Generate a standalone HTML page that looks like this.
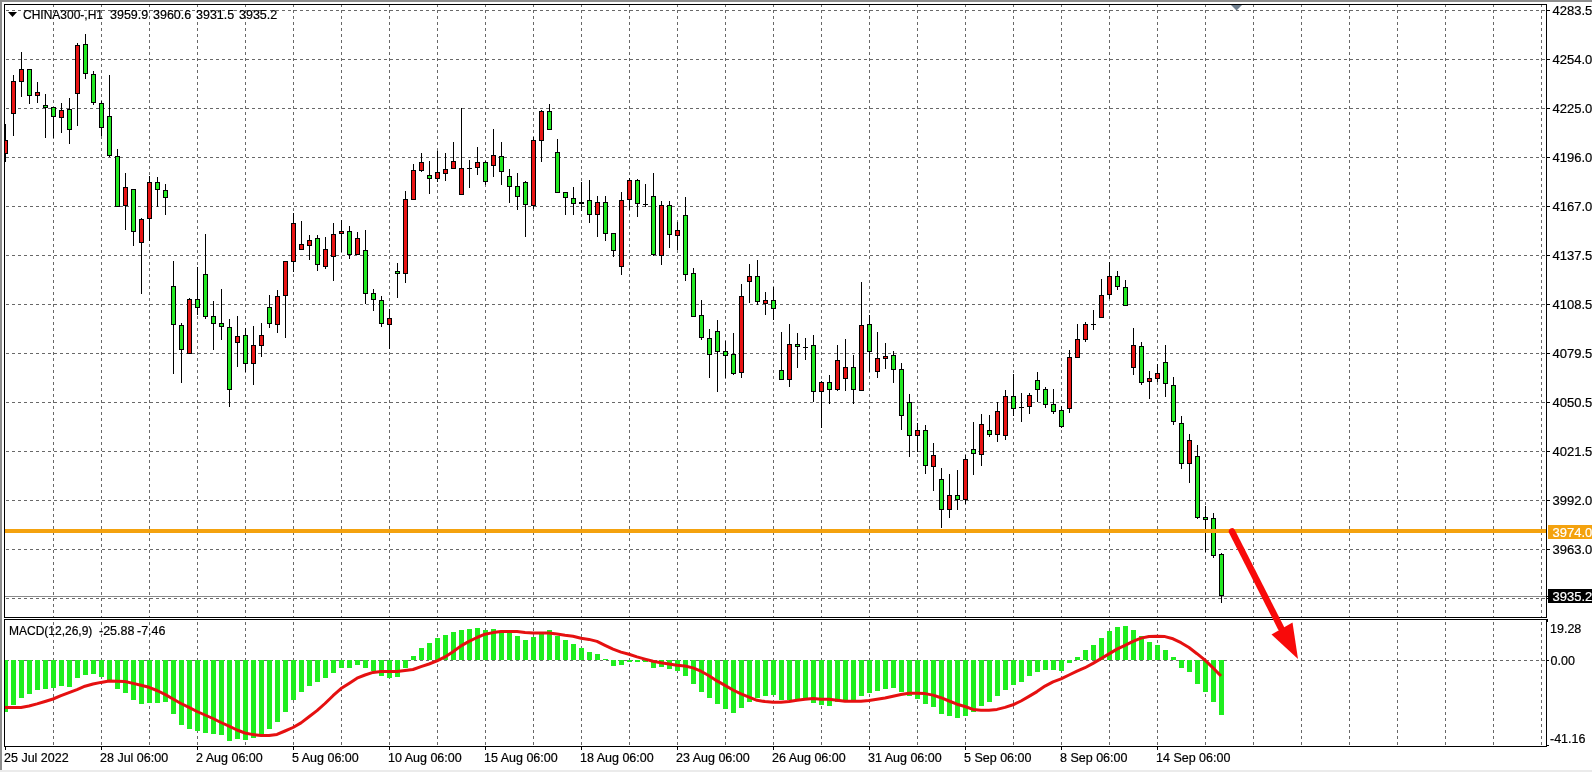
<!DOCTYPE html><html><head><meta charset="utf-8"><style>
html,body{margin:0;padding:0;background:#fff;width:1592px;height:772px;overflow:hidden}
svg{display:block;will-change:transform}
text{font-family:"Liberation Sans", sans-serif;font-size:12.5px;fill:#000;stroke:#000;stroke-width:0.2px} .t12{font-size:12px} .t13{font-size:13px}
</style></head><body>
<svg width="1592" height="772" viewBox="0 0 1592 772">
<rect x="0" y="0" width="1592" height="772" fill="#fff"/>
<rect x="0" y="0" width="1592" height="2" fill="#8e8e8e"/>
<rect x="0" y="0" width="2" height="772" fill="#8e8e8e"/>
<rect x="0" y="770" width="1592" height="2" fill="#ebebeb"/>
<defs><clipPath id="cm"><rect x="5" y="5" width="1541" height="612"/></clipPath>
<clipPath id="cd"><rect x="5" y="620" width="1541" height="126"/></clipPath></defs>
<g shape-rendering="crispEdges" stroke="#686868" stroke-width="1" stroke-dasharray="3 3" fill="none">
<line x1="53.5" y1="4" x2="53.5" y2="617"/>
<line x1="53.5" y1="622" x2="53.5" y2="746"/>
<line x1="101.5" y1="4" x2="101.5" y2="617"/>
<line x1="101.5" y1="622" x2="101.5" y2="746"/>
<line x1="149.5" y1="4" x2="149.5" y2="617"/>
<line x1="149.5" y1="622" x2="149.5" y2="746"/>
<line x1="197.5" y1="4" x2="197.5" y2="617"/>
<line x1="197.5" y1="622" x2="197.5" y2="746"/>
<line x1="245.5" y1="4" x2="245.5" y2="617"/>
<line x1="245.5" y1="622" x2="245.5" y2="746"/>
<line x1="293.5" y1="4" x2="293.5" y2="617"/>
<line x1="293.5" y1="622" x2="293.5" y2="746"/>
<line x1="341.5" y1="4" x2="341.5" y2="617"/>
<line x1="341.5" y1="622" x2="341.5" y2="746"/>
<line x1="389.5" y1="4" x2="389.5" y2="617"/>
<line x1="389.5" y1="622" x2="389.5" y2="746"/>
<line x1="437.5" y1="4" x2="437.5" y2="617"/>
<line x1="437.5" y1="622" x2="437.5" y2="746"/>
<line x1="485.5" y1="4" x2="485.5" y2="617"/>
<line x1="485.5" y1="622" x2="485.5" y2="746"/>
<line x1="533.5" y1="4" x2="533.5" y2="617"/>
<line x1="533.5" y1="622" x2="533.5" y2="746"/>
<line x1="581.5" y1="4" x2="581.5" y2="617"/>
<line x1="581.5" y1="622" x2="581.5" y2="746"/>
<line x1="629.5" y1="4" x2="629.5" y2="617"/>
<line x1="629.5" y1="622" x2="629.5" y2="746"/>
<line x1="677.5" y1="4" x2="677.5" y2="617"/>
<line x1="677.5" y1="622" x2="677.5" y2="746"/>
<line x1="725.5" y1="4" x2="725.5" y2="617"/>
<line x1="725.5" y1="622" x2="725.5" y2="746"/>
<line x1="773.5" y1="4" x2="773.5" y2="617"/>
<line x1="773.5" y1="622" x2="773.5" y2="746"/>
<line x1="821.5" y1="4" x2="821.5" y2="617"/>
<line x1="821.5" y1="622" x2="821.5" y2="746"/>
<line x1="869.5" y1="4" x2="869.5" y2="617"/>
<line x1="869.5" y1="622" x2="869.5" y2="746"/>
<line x1="917.5" y1="4" x2="917.5" y2="617"/>
<line x1="917.5" y1="622" x2="917.5" y2="746"/>
<line x1="965.5" y1="4" x2="965.5" y2="617"/>
<line x1="965.5" y1="622" x2="965.5" y2="746"/>
<line x1="1013.5" y1="4" x2="1013.5" y2="617"/>
<line x1="1013.5" y1="622" x2="1013.5" y2="746"/>
<line x1="1061.5" y1="4" x2="1061.5" y2="617"/>
<line x1="1061.5" y1="622" x2="1061.5" y2="746"/>
<line x1="1109.5" y1="4" x2="1109.5" y2="617"/>
<line x1="1109.5" y1="622" x2="1109.5" y2="746"/>
<line x1="1157.5" y1="4" x2="1157.5" y2="617"/>
<line x1="1157.5" y1="622" x2="1157.5" y2="746"/>
<line x1="1205.5" y1="4" x2="1205.5" y2="617"/>
<line x1="1205.5" y1="622" x2="1205.5" y2="746"/>
<line x1="1253.5" y1="4" x2="1253.5" y2="617"/>
<line x1="1253.5" y1="622" x2="1253.5" y2="746"/>
<line x1="1301.5" y1="4" x2="1301.5" y2="617"/>
<line x1="1301.5" y1="622" x2="1301.5" y2="746"/>
<line x1="1349.5" y1="4" x2="1349.5" y2="617"/>
<line x1="1349.5" y1="622" x2="1349.5" y2="746"/>
<line x1="1397.5" y1="4" x2="1397.5" y2="617"/>
<line x1="1397.5" y1="622" x2="1397.5" y2="746"/>
<line x1="1445.5" y1="4" x2="1445.5" y2="617"/>
<line x1="1445.5" y1="622" x2="1445.5" y2="746"/>
<line x1="1493.5" y1="4" x2="1493.5" y2="617"/>
<line x1="1493.5" y1="622" x2="1493.5" y2="746"/>
<line x1="1541.5" y1="4" x2="1541.5" y2="617"/>
<line x1="1541.5" y1="622" x2="1541.5" y2="746"/>
<line x1="6" y1="10.5" x2="1546" y2="10.5"/>
<line x1="6" y1="59.5" x2="1546" y2="59.5"/>
<line x1="6" y1="108.5" x2="1546" y2="108.5"/>
<line x1="6" y1="157.5" x2="1546" y2="157.5"/>
<line x1="6" y1="206.5" x2="1546" y2="206.5"/>
<line x1="6" y1="255.5" x2="1546" y2="255.5"/>
<line x1="6" y1="304.5" x2="1546" y2="304.5"/>
<line x1="6" y1="353.5" x2="1546" y2="353.5"/>
<line x1="6" y1="402.5" x2="1546" y2="402.5"/>
<line x1="6" y1="451.5" x2="1546" y2="451.5"/>
<line x1="6" y1="500.5" x2="1546" y2="500.5"/>
<line x1="6" y1="549.5" x2="1546" y2="549.5"/>
<line x1="6" y1="598.5" x2="1546" y2="598.5"/>
<line x1="6" y1="660.5" x2="1546" y2="660.5"/>
</g>
<rect x="5" y="596" width="1541" height="1" fill="#8a8a8a"/>
<g clip-path="url(#cm)" shape-rendering="crispEdges">
<rect x="5" y="124" width="1" height="38" fill="#000"/>
<rect x="3" y="140" width="5" height="14" fill="#000"/>
<rect x="4" y="141" width="3" height="12" fill="#E81313"/>
<rect x="13" y="75" width="1" height="61" fill="#000"/>
<rect x="11" y="81" width="5" height="33" fill="#000"/>
<rect x="12" y="82" width="3" height="31" fill="#E81313"/>
<rect x="21" y="52" width="1" height="45" fill="#000"/>
<rect x="19" y="69" width="5" height="13" fill="#000"/>
<rect x="20" y="70" width="3" height="11" fill="#E81313"/>
<rect x="29" y="69" width="1" height="35" fill="#000"/>
<rect x="27" y="69" width="5" height="27" fill="#000"/>
<rect x="28" y="70" width="3" height="25" fill="#22E822"/>
<rect x="37" y="82" width="1" height="21" fill="#000"/>
<rect x="35" y="92" width="5" height="4" fill="#000"/>
<rect x="36" y="93" width="3" height="2" fill="#E81313"/>
<rect x="45" y="94" width="1" height="44" fill="#000"/>
<rect x="43" y="105" width="5" height="3" fill="#000"/>
<rect x="44" y="106" width="3" height="1" fill="#22E822"/>
<rect x="53" y="107" width="1" height="31" fill="#000"/>
<rect x="51" y="107" width="5" height="10" fill="#000"/>
<rect x="52" y="108" width="3" height="8" fill="#22E822"/>
<rect x="61" y="103" width="1" height="30" fill="#000"/>
<rect x="59" y="110" width="5" height="8" fill="#000"/>
<rect x="60" y="111" width="3" height="6" fill="#E81313"/>
<rect x="69" y="98" width="1" height="46" fill="#000"/>
<rect x="67" y="109" width="5" height="21" fill="#000"/>
<rect x="68" y="110" width="3" height="19" fill="#22E822"/>
<rect x="77" y="43" width="1" height="83" fill="#000"/>
<rect x="75" y="45" width="5" height="49" fill="#000"/>
<rect x="76" y="46" width="3" height="47" fill="#E81313"/>
<rect x="85" y="34" width="1" height="45" fill="#000"/>
<rect x="83" y="44" width="5" height="30" fill="#000"/>
<rect x="84" y="45" width="3" height="28" fill="#22E822"/>
<rect x="93" y="71" width="1" height="34" fill="#000"/>
<rect x="91" y="74" width="5" height="29" fill="#000"/>
<rect x="92" y="75" width="3" height="27" fill="#22E822"/>
<rect x="101" y="101" width="1" height="35" fill="#000"/>
<rect x="99" y="103" width="5" height="25" fill="#000"/>
<rect x="100" y="104" width="3" height="23" fill="#22E822"/>
<rect x="109" y="75" width="1" height="82" fill="#000"/>
<rect x="107" y="116" width="5" height="40" fill="#000"/>
<rect x="108" y="117" width="3" height="38" fill="#22E822"/>
<rect x="117" y="149" width="1" height="58" fill="#000"/>
<rect x="115" y="156" width="5" height="51" fill="#000"/>
<rect x="116" y="157" width="3" height="49" fill="#22E822"/>
<rect x="125" y="173" width="1" height="57" fill="#000"/>
<rect x="123" y="187" width="5" height="19" fill="#000"/>
<rect x="124" y="188" width="3" height="17" fill="#E81313"/>
<rect x="133" y="189" width="1" height="57" fill="#000"/>
<rect x="131" y="189" width="5" height="43" fill="#000"/>
<rect x="132" y="190" width="3" height="41" fill="#22E822"/>
<rect x="141" y="218" width="1" height="76" fill="#000"/>
<rect x="139" y="219" width="5" height="24" fill="#000"/>
<rect x="140" y="220" width="3" height="22" fill="#E81313"/>
<rect x="149" y="176" width="1" height="65" fill="#000"/>
<rect x="147" y="182" width="5" height="37" fill="#000"/>
<rect x="148" y="183" width="3" height="35" fill="#E81313"/>
<rect x="157" y="177" width="1" height="30" fill="#000"/>
<rect x="155" y="182" width="5" height="8" fill="#000"/>
<rect x="156" y="183" width="3" height="6" fill="#22E822"/>
<rect x="165" y="184" width="1" height="31" fill="#000"/>
<rect x="163" y="190" width="5" height="8" fill="#000"/>
<rect x="164" y="191" width="3" height="6" fill="#22E822"/>
<rect x="173" y="261" width="1" height="113" fill="#000"/>
<rect x="171" y="286" width="5" height="39" fill="#000"/>
<rect x="172" y="287" width="3" height="37" fill="#22E822"/>
<rect x="181" y="323" width="1" height="60" fill="#000"/>
<rect x="179" y="325" width="5" height="25" fill="#000"/>
<rect x="180" y="326" width="3" height="23" fill="#22E822"/>
<rect x="189" y="298" width="1" height="56" fill="#000"/>
<rect x="187" y="299" width="5" height="55" fill="#000"/>
<rect x="188" y="300" width="3" height="53" fill="#E81313"/>
<rect x="197" y="267" width="1" height="48" fill="#000"/>
<rect x="195" y="299" width="5" height="9" fill="#000"/>
<rect x="196" y="300" width="3" height="7" fill="#22E822"/>
<rect x="205" y="234" width="1" height="85" fill="#000"/>
<rect x="203" y="274" width="5" height="43" fill="#000"/>
<rect x="204" y="275" width="3" height="41" fill="#22E822"/>
<rect x="213" y="301" width="1" height="49" fill="#000"/>
<rect x="211" y="316" width="5" height="8" fill="#000"/>
<rect x="212" y="317" width="3" height="6" fill="#22E822"/>
<rect x="221" y="289" width="1" height="51" fill="#000"/>
<rect x="219" y="323" width="5" height="4" fill="#000"/>
<rect x="220" y="324" width="3" height="2" fill="#22E822"/>
<rect x="229" y="319" width="1" height="88" fill="#000"/>
<rect x="227" y="327" width="5" height="63" fill="#000"/>
<rect x="228" y="328" width="3" height="61" fill="#22E822"/>
<rect x="237" y="316" width="1" height="51" fill="#000"/>
<rect x="235" y="336" width="5" height="7" fill="#000"/>
<rect x="236" y="337" width="3" height="5" fill="#E81313"/>
<rect x="245" y="328" width="1" height="44" fill="#000"/>
<rect x="243" y="335" width="5" height="29" fill="#000"/>
<rect x="244" y="336" width="3" height="27" fill="#22E822"/>
<rect x="253" y="326" width="1" height="59" fill="#000"/>
<rect x="251" y="345" width="5" height="19" fill="#000"/>
<rect x="252" y="346" width="3" height="17" fill="#E81313"/>
<rect x="261" y="323" width="1" height="34" fill="#000"/>
<rect x="259" y="335" width="5" height="11" fill="#000"/>
<rect x="260" y="336" width="3" height="9" fill="#E81313"/>
<rect x="269" y="295" width="1" height="33" fill="#000"/>
<rect x="267" y="307" width="5" height="17" fill="#000"/>
<rect x="268" y="308" width="3" height="15" fill="#22E822"/>
<rect x="277" y="290" width="1" height="43" fill="#000"/>
<rect x="275" y="296" width="5" height="29" fill="#000"/>
<rect x="276" y="297" width="3" height="27" fill="#E81313"/>
<rect x="285" y="261" width="1" height="77" fill="#000"/>
<rect x="283" y="261" width="5" height="35" fill="#000"/>
<rect x="284" y="262" width="3" height="33" fill="#E81313"/>
<rect x="293" y="213" width="1" height="59" fill="#000"/>
<rect x="291" y="223" width="5" height="39" fill="#000"/>
<rect x="292" y="224" width="3" height="37" fill="#E81313"/>
<rect x="301" y="221" width="1" height="29" fill="#000"/>
<rect x="299" y="244" width="5" height="6" fill="#000"/>
<rect x="300" y="245" width="3" height="4" fill="#E81313"/>
<rect x="309" y="235" width="1" height="25" fill="#000"/>
<rect x="307" y="240" width="5" height="6" fill="#000"/>
<rect x="308" y="241" width="3" height="4" fill="#E81313"/>
<rect x="317" y="235" width="1" height="36" fill="#000"/>
<rect x="315" y="238" width="5" height="27" fill="#000"/>
<rect x="316" y="239" width="3" height="25" fill="#22E822"/>
<rect x="325" y="237" width="1" height="32" fill="#000"/>
<rect x="323" y="249" width="5" height="18" fill="#000"/>
<rect x="324" y="250" width="3" height="16" fill="#E81313"/>
<rect x="333" y="223" width="1" height="58" fill="#000"/>
<rect x="331" y="234" width="5" height="23" fill="#000"/>
<rect x="332" y="235" width="3" height="21" fill="#E81313"/>
<rect x="341" y="220" width="1" height="32" fill="#000"/>
<rect x="339" y="231" width="5" height="3" fill="#000"/>
<rect x="340" y="232" width="3" height="1" fill="#E81313"/>
<rect x="349" y="226" width="1" height="33" fill="#000"/>
<rect x="347" y="231" width="5" height="24" fill="#000"/>
<rect x="348" y="232" width="3" height="22" fill="#22E822"/>
<rect x="357" y="232" width="1" height="23" fill="#000"/>
<rect x="355" y="238" width="5" height="17" fill="#000"/>
<rect x="356" y="239" width="3" height="15" fill="#E81313"/>
<rect x="365" y="230" width="1" height="74" fill="#000"/>
<rect x="363" y="250" width="5" height="44" fill="#000"/>
<rect x="364" y="251" width="3" height="42" fill="#22E822"/>
<rect x="373" y="289" width="1" height="22" fill="#000"/>
<rect x="371" y="293" width="5" height="7" fill="#000"/>
<rect x="372" y="294" width="3" height="5" fill="#22E822"/>
<rect x="381" y="296" width="1" height="31" fill="#000"/>
<rect x="379" y="300" width="5" height="24" fill="#000"/>
<rect x="380" y="301" width="3" height="22" fill="#22E822"/>
<rect x="389" y="309" width="1" height="40" fill="#000"/>
<rect x="387" y="318" width="5" height="7" fill="#000"/>
<rect x="388" y="319" width="3" height="5" fill="#E81313"/>
<rect x="397" y="263" width="1" height="35" fill="#000"/>
<rect x="395" y="271" width="5" height="3" fill="#000"/>
<rect x="396" y="272" width="3" height="1" fill="#22E822"/>
<rect x="405" y="191" width="1" height="92" fill="#000"/>
<rect x="403" y="199" width="5" height="75" fill="#000"/>
<rect x="404" y="200" width="3" height="73" fill="#E81313"/>
<rect x="413" y="164" width="1" height="36" fill="#000"/>
<rect x="411" y="170" width="5" height="30" fill="#000"/>
<rect x="412" y="171" width="3" height="28" fill="#E81313"/>
<rect x="421" y="153" width="1" height="19" fill="#000"/>
<rect x="419" y="162" width="5" height="9" fill="#000"/>
<rect x="420" y="163" width="3" height="7" fill="#E81313"/>
<rect x="429" y="161" width="1" height="33" fill="#000"/>
<rect x="427" y="175" width="5" height="4" fill="#000"/>
<rect x="428" y="176" width="3" height="2" fill="#22E822"/>
<rect x="437" y="151" width="1" height="31" fill="#000"/>
<rect x="435" y="172" width="5" height="7" fill="#000"/>
<rect x="436" y="173" width="3" height="5" fill="#E81313"/>
<rect x="445" y="153" width="1" height="28" fill="#000"/>
<rect x="443" y="169" width="5" height="5" fill="#000"/>
<rect x="444" y="170" width="3" height="3" fill="#E81313"/>
<rect x="453" y="142" width="1" height="27" fill="#000"/>
<rect x="451" y="161" width="5" height="8" fill="#000"/>
<rect x="452" y="162" width="3" height="6" fill="#E81313"/>
<rect x="461" y="108" width="1" height="87" fill="#000"/>
<rect x="459" y="168" width="5" height="27" fill="#000"/>
<rect x="460" y="169" width="3" height="25" fill="#E81313"/>
<rect x="469" y="160" width="1" height="28" fill="#000"/>
<rect x="467" y="168" width="5" height="1" fill="#000"/>
<rect x="477" y="147" width="1" height="28" fill="#000"/>
<rect x="475" y="162" width="5" height="6" fill="#000"/>
<rect x="476" y="163" width="3" height="4" fill="#E81313"/>
<rect x="485" y="161" width="1" height="24" fill="#000"/>
<rect x="483" y="162" width="5" height="20" fill="#000"/>
<rect x="484" y="163" width="3" height="18" fill="#22E822"/>
<rect x="493" y="129" width="1" height="48" fill="#000"/>
<rect x="491" y="155" width="5" height="11" fill="#000"/>
<rect x="492" y="156" width="3" height="9" fill="#E81313"/>
<rect x="501" y="142" width="1" height="43" fill="#000"/>
<rect x="499" y="156" width="5" height="16" fill="#000"/>
<rect x="500" y="157" width="3" height="14" fill="#22E822"/>
<rect x="509" y="169" width="1" height="34" fill="#000"/>
<rect x="507" y="176" width="5" height="11" fill="#000"/>
<rect x="508" y="177" width="3" height="9" fill="#22E822"/>
<rect x="517" y="173" width="1" height="37" fill="#000"/>
<rect x="515" y="186" width="5" height="11" fill="#000"/>
<rect x="516" y="187" width="3" height="9" fill="#22E822"/>
<rect x="525" y="181" width="1" height="56" fill="#000"/>
<rect x="523" y="182" width="5" height="23" fill="#000"/>
<rect x="524" y="183" width="3" height="21" fill="#22E822"/>
<rect x="533" y="137" width="1" height="72" fill="#000"/>
<rect x="531" y="140" width="5" height="66" fill="#000"/>
<rect x="532" y="141" width="3" height="64" fill="#E81313"/>
<rect x="541" y="110" width="1" height="52" fill="#000"/>
<rect x="539" y="111" width="5" height="30" fill="#000"/>
<rect x="540" y="112" width="3" height="28" fill="#E81313"/>
<rect x="549" y="104" width="1" height="26" fill="#000"/>
<rect x="547" y="111" width="5" height="19" fill="#000"/>
<rect x="548" y="112" width="3" height="17" fill="#22E822"/>
<rect x="557" y="139" width="1" height="54" fill="#000"/>
<rect x="555" y="152" width="5" height="41" fill="#000"/>
<rect x="556" y="153" width="3" height="39" fill="#22E822"/>
<rect x="565" y="192" width="1" height="23" fill="#000"/>
<rect x="563" y="192" width="5" height="6" fill="#000"/>
<rect x="564" y="193" width="3" height="4" fill="#22E822"/>
<rect x="573" y="187" width="1" height="28" fill="#000"/>
<rect x="571" y="198" width="5" height="6" fill="#000"/>
<rect x="572" y="199" width="3" height="4" fill="#22E822"/>
<rect x="581" y="182" width="1" height="29" fill="#000"/>
<rect x="579" y="202" width="5" height="2" fill="#000"/>
<rect x="589" y="180" width="1" height="43" fill="#000"/>
<rect x="587" y="200" width="5" height="15" fill="#000"/>
<rect x="588" y="201" width="3" height="13" fill="#22E822"/>
<rect x="597" y="196" width="1" height="41" fill="#000"/>
<rect x="595" y="202" width="5" height="13" fill="#000"/>
<rect x="596" y="203" width="3" height="11" fill="#E81313"/>
<rect x="605" y="196" width="1" height="45" fill="#000"/>
<rect x="603" y="202" width="5" height="32" fill="#000"/>
<rect x="604" y="203" width="3" height="30" fill="#22E822"/>
<rect x="613" y="233" width="1" height="24" fill="#000"/>
<rect x="611" y="233" width="5" height="18" fill="#000"/>
<rect x="612" y="234" width="3" height="16" fill="#22E822"/>
<rect x="621" y="192" width="1" height="83" fill="#000"/>
<rect x="619" y="200" width="5" height="67" fill="#000"/>
<rect x="620" y="201" width="3" height="65" fill="#E81313"/>
<rect x="629" y="178" width="1" height="32" fill="#000"/>
<rect x="627" y="180" width="5" height="20" fill="#000"/>
<rect x="628" y="181" width="3" height="18" fill="#E81313"/>
<rect x="637" y="179" width="1" height="38" fill="#000"/>
<rect x="635" y="180" width="5" height="24" fill="#000"/>
<rect x="636" y="181" width="3" height="22" fill="#22E822"/>
<rect x="645" y="184" width="1" height="23" fill="#000"/>
<rect x="643" y="204" width="5" height="1" fill="#000"/>
<rect x="653" y="173" width="1" height="83" fill="#000"/>
<rect x="651" y="196" width="5" height="59" fill="#000"/>
<rect x="652" y="197" width="3" height="57" fill="#22E822"/>
<rect x="661" y="201" width="1" height="64" fill="#000"/>
<rect x="659" y="205" width="5" height="51" fill="#000"/>
<rect x="660" y="206" width="3" height="49" fill="#E81313"/>
<rect x="669" y="201" width="1" height="47" fill="#000"/>
<rect x="667" y="205" width="5" height="30" fill="#000"/>
<rect x="668" y="206" width="3" height="28" fill="#22E822"/>
<rect x="677" y="222" width="1" height="28" fill="#000"/>
<rect x="675" y="230" width="5" height="6" fill="#000"/>
<rect x="676" y="231" width="3" height="4" fill="#E81313"/>
<rect x="685" y="197" width="1" height="84" fill="#000"/>
<rect x="683" y="215" width="5" height="60" fill="#000"/>
<rect x="684" y="216" width="3" height="58" fill="#22E822"/>
<rect x="693" y="268" width="1" height="49" fill="#000"/>
<rect x="691" y="273" width="5" height="44" fill="#000"/>
<rect x="692" y="274" width="3" height="42" fill="#22E822"/>
<rect x="701" y="300" width="1" height="40" fill="#000"/>
<rect x="699" y="315" width="5" height="23" fill="#000"/>
<rect x="700" y="316" width="3" height="21" fill="#22E822"/>
<rect x="709" y="329" width="1" height="49" fill="#000"/>
<rect x="707" y="338" width="5" height="17" fill="#000"/>
<rect x="708" y="339" width="3" height="15" fill="#22E822"/>
<rect x="717" y="320" width="1" height="72" fill="#000"/>
<rect x="715" y="331" width="5" height="21" fill="#000"/>
<rect x="716" y="332" width="3" height="19" fill="#22E822"/>
<rect x="725" y="341" width="1" height="37" fill="#000"/>
<rect x="723" y="351" width="5" height="5" fill="#000"/>
<rect x="724" y="352" width="3" height="3" fill="#22E822"/>
<rect x="733" y="333" width="1" height="42" fill="#000"/>
<rect x="731" y="354" width="5" height="20" fill="#000"/>
<rect x="732" y="355" width="3" height="18" fill="#22E822"/>
<rect x="741" y="284" width="1" height="94" fill="#000"/>
<rect x="739" y="296" width="5" height="77" fill="#000"/>
<rect x="740" y="297" width="3" height="75" fill="#E81313"/>
<rect x="749" y="264" width="1" height="39" fill="#000"/>
<rect x="747" y="276" width="5" height="6" fill="#000"/>
<rect x="748" y="277" width="3" height="4" fill="#E81313"/>
<rect x="757" y="260" width="1" height="45" fill="#000"/>
<rect x="755" y="276" width="5" height="26" fill="#000"/>
<rect x="756" y="277" width="3" height="24" fill="#22E822"/>
<rect x="765" y="292" width="1" height="23" fill="#000"/>
<rect x="763" y="300" width="5" height="4" fill="#000"/>
<rect x="764" y="301" width="3" height="2" fill="#E81313"/>
<rect x="773" y="287" width="1" height="33" fill="#000"/>
<rect x="771" y="300" width="5" height="9" fill="#000"/>
<rect x="772" y="301" width="3" height="7" fill="#22E822"/>
<rect x="781" y="332" width="1" height="48" fill="#000"/>
<rect x="779" y="370" width="5" height="10" fill="#000"/>
<rect x="780" y="371" width="3" height="8" fill="#22E822"/>
<rect x="789" y="324" width="1" height="63" fill="#000"/>
<rect x="787" y="344" width="5" height="36" fill="#000"/>
<rect x="788" y="345" width="3" height="34" fill="#E81313"/>
<rect x="797" y="333" width="1" height="35" fill="#000"/>
<rect x="795" y="344" width="5" height="3" fill="#000"/>
<rect x="796" y="345" width="3" height="1" fill="#22E822"/>
<rect x="805" y="338" width="1" height="22" fill="#000"/>
<rect x="803" y="347" width="5" height="1" fill="#000"/>
<rect x="813" y="335" width="1" height="67" fill="#000"/>
<rect x="811" y="345" width="5" height="47" fill="#000"/>
<rect x="812" y="346" width="3" height="45" fill="#22E822"/>
<rect x="821" y="381" width="1" height="47" fill="#000"/>
<rect x="819" y="382" width="5" height="10" fill="#000"/>
<rect x="820" y="383" width="3" height="8" fill="#E81313"/>
<rect x="829" y="375" width="1" height="29" fill="#000"/>
<rect x="827" y="382" width="5" height="8" fill="#000"/>
<rect x="828" y="383" width="3" height="6" fill="#22E822"/>
<rect x="837" y="345" width="1" height="46" fill="#000"/>
<rect x="835" y="360" width="5" height="30" fill="#000"/>
<rect x="836" y="361" width="3" height="28" fill="#E81313"/>
<rect x="845" y="339" width="1" height="52" fill="#000"/>
<rect x="843" y="367" width="5" height="12" fill="#000"/>
<rect x="844" y="368" width="3" height="10" fill="#E81313"/>
<rect x="853" y="355" width="1" height="49" fill="#000"/>
<rect x="851" y="367" width="5" height="23" fill="#000"/>
<rect x="852" y="368" width="3" height="21" fill="#22E822"/>
<rect x="861" y="282" width="1" height="109" fill="#000"/>
<rect x="859" y="325" width="5" height="66" fill="#000"/>
<rect x="860" y="326" width="3" height="64" fill="#E81313"/>
<rect x="869" y="315" width="1" height="57" fill="#000"/>
<rect x="867" y="324" width="5" height="28" fill="#000"/>
<rect x="868" y="325" width="3" height="26" fill="#22E822"/>
<rect x="877" y="332" width="1" height="46" fill="#000"/>
<rect x="875" y="358" width="5" height="14" fill="#000"/>
<rect x="876" y="359" width="3" height="12" fill="#E81313"/>
<rect x="885" y="343" width="1" height="26" fill="#000"/>
<rect x="883" y="356" width="5" height="3" fill="#000"/>
<rect x="884" y="357" width="3" height="1" fill="#E81313"/>
<rect x="893" y="351" width="1" height="32" fill="#000"/>
<rect x="891" y="355" width="5" height="15" fill="#000"/>
<rect x="892" y="356" width="3" height="13" fill="#22E822"/>
<rect x="901" y="363" width="1" height="67" fill="#000"/>
<rect x="899" y="369" width="5" height="47" fill="#000"/>
<rect x="900" y="370" width="3" height="45" fill="#22E822"/>
<rect x="909" y="394" width="1" height="63" fill="#000"/>
<rect x="907" y="402" width="5" height="34" fill="#000"/>
<rect x="908" y="403" width="3" height="32" fill="#22E822"/>
<rect x="917" y="423" width="1" height="29" fill="#000"/>
<rect x="915" y="430" width="5" height="6" fill="#000"/>
<rect x="916" y="431" width="3" height="4" fill="#E81313"/>
<rect x="925" y="425" width="1" height="49" fill="#000"/>
<rect x="923" y="430" width="5" height="36" fill="#000"/>
<rect x="924" y="431" width="3" height="34" fill="#22E822"/>
<rect x="933" y="443" width="1" height="48" fill="#000"/>
<rect x="931" y="455" width="5" height="12" fill="#000"/>
<rect x="932" y="456" width="3" height="10" fill="#E81313"/>
<rect x="941" y="468" width="1" height="60" fill="#000"/>
<rect x="939" y="479" width="5" height="31" fill="#000"/>
<rect x="940" y="480" width="3" height="29" fill="#22E822"/>
<rect x="949" y="474" width="1" height="44" fill="#000"/>
<rect x="947" y="495" width="5" height="15" fill="#000"/>
<rect x="948" y="496" width="3" height="13" fill="#E81313"/>
<rect x="957" y="470" width="1" height="40" fill="#000"/>
<rect x="955" y="495" width="5" height="5" fill="#000"/>
<rect x="956" y="496" width="3" height="3" fill="#22E822"/>
<rect x="965" y="455" width="1" height="49" fill="#000"/>
<rect x="963" y="459" width="5" height="41" fill="#000"/>
<rect x="964" y="460" width="3" height="39" fill="#E81313"/>
<rect x="973" y="422" width="1" height="53" fill="#000"/>
<rect x="971" y="449" width="5" height="5" fill="#000"/>
<rect x="972" y="450" width="3" height="3" fill="#22E822"/>
<rect x="981" y="414" width="1" height="52" fill="#000"/>
<rect x="979" y="424" width="5" height="31" fill="#000"/>
<rect x="980" y="425" width="3" height="29" fill="#E81313"/>
<rect x="989" y="415" width="1" height="22" fill="#000"/>
<rect x="987" y="430" width="5" height="5" fill="#000"/>
<rect x="988" y="431" width="3" height="3" fill="#22E822"/>
<rect x="997" y="402" width="1" height="40" fill="#000"/>
<rect x="995" y="411" width="5" height="24" fill="#000"/>
<rect x="996" y="412" width="3" height="22" fill="#E81313"/>
<rect x="1005" y="390" width="1" height="50" fill="#000"/>
<rect x="1003" y="396" width="5" height="40" fill="#000"/>
<rect x="1004" y="397" width="3" height="38" fill="#E81313"/>
<rect x="1013" y="374" width="1" height="42" fill="#000"/>
<rect x="1011" y="396" width="5" height="13" fill="#000"/>
<rect x="1012" y="397" width="3" height="11" fill="#22E822"/>
<rect x="1021" y="393" width="1" height="29" fill="#000"/>
<rect x="1019" y="407" width="5" height="1" fill="#000"/>
<rect x="1029" y="393" width="1" height="21" fill="#000"/>
<rect x="1027" y="395" width="5" height="12" fill="#000"/>
<rect x="1028" y="396" width="3" height="10" fill="#E81313"/>
<rect x="1037" y="372" width="1" height="30" fill="#000"/>
<rect x="1035" y="380" width="5" height="10" fill="#000"/>
<rect x="1036" y="381" width="3" height="8" fill="#22E822"/>
<rect x="1045" y="387" width="1" height="21" fill="#000"/>
<rect x="1043" y="389" width="5" height="16" fill="#000"/>
<rect x="1044" y="390" width="3" height="14" fill="#22E822"/>
<rect x="1053" y="389" width="1" height="25" fill="#000"/>
<rect x="1051" y="404" width="5" height="8" fill="#000"/>
<rect x="1052" y="405" width="3" height="6" fill="#22E822"/>
<rect x="1061" y="406" width="1" height="22" fill="#000"/>
<rect x="1059" y="410" width="5" height="17" fill="#000"/>
<rect x="1060" y="411" width="3" height="15" fill="#22E822"/>
<rect x="1069" y="350" width="1" height="63" fill="#000"/>
<rect x="1067" y="357" width="5" height="52" fill="#000"/>
<rect x="1068" y="358" width="3" height="50" fill="#E81313"/>
<rect x="1077" y="324" width="1" height="34" fill="#000"/>
<rect x="1075" y="339" width="5" height="19" fill="#000"/>
<rect x="1076" y="340" width="3" height="17" fill="#E81313"/>
<rect x="1085" y="322" width="1" height="20" fill="#000"/>
<rect x="1083" y="324" width="5" height="16" fill="#000"/>
<rect x="1084" y="325" width="3" height="14" fill="#E81313"/>
<rect x="1093" y="310" width="1" height="20" fill="#000"/>
<rect x="1091" y="324" width="5" height="1" fill="#000"/>
<rect x="1101" y="279" width="1" height="39" fill="#000"/>
<rect x="1099" y="295" width="5" height="23" fill="#000"/>
<rect x="1100" y="296" width="3" height="21" fill="#E81313"/>
<rect x="1109" y="262" width="1" height="37" fill="#000"/>
<rect x="1107" y="276" width="5" height="19" fill="#000"/>
<rect x="1108" y="277" width="3" height="17" fill="#E81313"/>
<rect x="1117" y="271" width="1" height="19" fill="#000"/>
<rect x="1115" y="276" width="5" height="11" fill="#000"/>
<rect x="1116" y="277" width="3" height="9" fill="#22E822"/>
<rect x="1125" y="280" width="1" height="26" fill="#000"/>
<rect x="1123" y="287" width="5" height="19" fill="#000"/>
<rect x="1124" y="288" width="3" height="17" fill="#22E822"/>
<rect x="1133" y="328" width="1" height="47" fill="#000"/>
<rect x="1131" y="345" width="5" height="23" fill="#000"/>
<rect x="1132" y="346" width="3" height="21" fill="#E81313"/>
<rect x="1141" y="342" width="1" height="43" fill="#000"/>
<rect x="1139" y="346" width="5" height="37" fill="#000"/>
<rect x="1140" y="347" width="3" height="35" fill="#22E822"/>
<rect x="1149" y="371" width="1" height="28" fill="#000"/>
<rect x="1147" y="378" width="5" height="4" fill="#000"/>
<rect x="1148" y="379" width="3" height="2" fill="#E81313"/>
<rect x="1157" y="364" width="1" height="18" fill="#000"/>
<rect x="1155" y="373" width="5" height="6" fill="#000"/>
<rect x="1156" y="374" width="3" height="4" fill="#E81313"/>
<rect x="1165" y="345" width="1" height="52" fill="#000"/>
<rect x="1163" y="362" width="5" height="22" fill="#000"/>
<rect x="1164" y="363" width="3" height="20" fill="#22E822"/>
<rect x="1173" y="377" width="1" height="48" fill="#000"/>
<rect x="1171" y="385" width="5" height="37" fill="#000"/>
<rect x="1172" y="386" width="3" height="35" fill="#22E822"/>
<rect x="1181" y="416" width="1" height="53" fill="#000"/>
<rect x="1179" y="423" width="5" height="41" fill="#000"/>
<rect x="1180" y="424" width="3" height="39" fill="#22E822"/>
<rect x="1189" y="434" width="1" height="49" fill="#000"/>
<rect x="1187" y="440" width="5" height="24" fill="#000"/>
<rect x="1188" y="441" width="3" height="22" fill="#E81313"/>
<rect x="1197" y="445" width="1" height="74" fill="#000"/>
<rect x="1195" y="456" width="5" height="62" fill="#000"/>
<rect x="1196" y="457" width="3" height="60" fill="#22E822"/>
<rect x="1205" y="506" width="1" height="46" fill="#000"/>
<rect x="1203" y="517" width="5" height="3" fill="#000"/>
<rect x="1204" y="518" width="3" height="1" fill="#22E822"/>
<rect x="1213" y="513" width="1" height="45" fill="#000"/>
<rect x="1211" y="518" width="5" height="38" fill="#000"/>
<rect x="1212" y="519" width="3" height="36" fill="#22E822"/>
<rect x="1221" y="553" width="1" height="50" fill="#000"/>
<rect x="1219" y="554" width="5" height="42" fill="#000"/>
<rect x="1220" y="555" width="3" height="40" fill="#22E822"/>
</g>
<rect x="5" y="529" width="1541" height="4" fill="#F4A20E"/>
<g clip-path="url(#cd)" shape-rendering="crispEdges" fill="#1FEE1F">
<rect x="3" y="660" width="5" height="52"/>
<rect x="11" y="660" width="5" height="45"/>
<rect x="19" y="660" width="5" height="38"/>
<rect x="27" y="660" width="5" height="34"/>
<rect x="35" y="660" width="5" height="30"/>
<rect x="43" y="660" width="5" height="29"/>
<rect x="51" y="660" width="5" height="28"/>
<rect x="59" y="660" width="5" height="26"/>
<rect x="67" y="660" width="5" height="27"/>
<rect x="75" y="660" width="5" height="18"/>
<rect x="83" y="660" width="5" height="15"/>
<rect x="91" y="660" width="5" height="14"/>
<rect x="99" y="660" width="5" height="17"/>
<rect x="107" y="660" width="5" height="20"/>
<rect x="115" y="660" width="5" height="29"/>
<rect x="123" y="660" width="5" height="33"/>
<rect x="131" y="660" width="5" height="40"/>
<rect x="139" y="660" width="5" height="44"/>
<rect x="147" y="660" width="5" height="43"/>
<rect x="155" y="660" width="5" height="43"/>
<rect x="163" y="660" width="5" height="42"/>
<rect x="171" y="660" width="5" height="54"/>
<rect x="179" y="660" width="5" height="65"/>
<rect x="187" y="660" width="5" height="69"/>
<rect x="195" y="660" width="5" height="71"/>
<rect x="203" y="660" width="5" height="73"/>
<rect x="211" y="660" width="5" height="74"/>
<rect x="219" y="660" width="5" height="75"/>
<rect x="227" y="660" width="5" height="81"/>
<rect x="235" y="660" width="5" height="79"/>
<rect x="243" y="660" width="5" height="80"/>
<rect x="251" y="660" width="5" height="78"/>
<rect x="259" y="660" width="5" height="76"/>
<rect x="267" y="660" width="5" height="69"/>
<rect x="275" y="660" width="5" height="62"/>
<rect x="283" y="660" width="5" height="52"/>
<rect x="291" y="660" width="5" height="40"/>
<rect x="299" y="660" width="5" height="32"/>
<rect x="307" y="660" width="5" height="26"/>
<rect x="315" y="660" width="5" height="22"/>
<rect x="323" y="660" width="5" height="18"/>
<rect x="331" y="660" width="5" height="13"/>
<rect x="339" y="660" width="5" height="8"/>
<rect x="347" y="660" width="5" height="8"/>
<rect x="355" y="660" width="5" height="5"/>
<rect x="363" y="660" width="5" height="8"/>
<rect x="371" y="660" width="5" height="11"/>
<rect x="379" y="660" width="5" height="16"/>
<rect x="387" y="660" width="5" height="18"/>
<rect x="395" y="660" width="5" height="17"/>
<rect x="403" y="660" width="5" height="8"/>
<rect x="411" y="656" width="5" height="4"/>
<rect x="419" y="648" width="5" height="12"/>
<rect x="427" y="643" width="5" height="17"/>
<rect x="435" y="638" width="5" height="22"/>
<rect x="443" y="635" width="5" height="25"/>
<rect x="451" y="632" width="5" height="28"/>
<rect x="459" y="630" width="5" height="30"/>
<rect x="467" y="629" width="5" height="31"/>
<rect x="475" y="628" width="5" height="32"/>
<rect x="483" y="630" width="5" height="30"/>
<rect x="491" y="629" width="5" height="31"/>
<rect x="499" y="632" width="5" height="28"/>
<rect x="507" y="632" width="5" height="28"/>
<rect x="515" y="636" width="5" height="24"/>
<rect x="523" y="640" width="5" height="20"/>
<rect x="531" y="637" width="5" height="23"/>
<rect x="539" y="634" width="5" height="26"/>
<rect x="547" y="630" width="5" height="30"/>
<rect x="555" y="636" width="5" height="24"/>
<rect x="563" y="640" width="5" height="20"/>
<rect x="571" y="644" width="5" height="16"/>
<rect x="579" y="648" width="5" height="12"/>
<rect x="587" y="652" width="5" height="8"/>
<rect x="595" y="654" width="5" height="6"/>
<rect x="603" y="659" width="5" height="1"/>
<rect x="611" y="660" width="5" height="6"/>
<rect x="619" y="660" width="5" height="5"/>
<rect x="627" y="660" width="5" height="2"/>
<rect x="635" y="660" width="5" height="2"/>
<rect x="643" y="660" width="5" height="2"/>
<rect x="651" y="660" width="5" height="8"/>
<rect x="659" y="660" width="5" height="7"/>
<rect x="667" y="660" width="5" height="9"/>
<rect x="675" y="660" width="5" height="11"/>
<rect x="683" y="660" width="5" height="16"/>
<rect x="691" y="660" width="5" height="24"/>
<rect x="699" y="660" width="5" height="32"/>
<rect x="707" y="660" width="5" height="38"/>
<rect x="715" y="660" width="5" height="44"/>
<rect x="723" y="660" width="5" height="49"/>
<rect x="731" y="660" width="5" height="53"/>
<rect x="739" y="660" width="5" height="48"/>
<rect x="747" y="660" width="5" height="42"/>
<rect x="755" y="660" width="5" height="38"/>
<rect x="763" y="660" width="5" height="36"/>
<rect x="771" y="660" width="5" height="35"/>
<rect x="779" y="660" width="5" height="40"/>
<rect x="787" y="660" width="5" height="40"/>
<rect x="795" y="660" width="5" height="39"/>
<rect x="803" y="660" width="5" height="38"/>
<rect x="811" y="660" width="5" height="43"/>
<rect x="819" y="660" width="5" height="45"/>
<rect x="827" y="660" width="5" height="46"/>
<rect x="835" y="660" width="5" height="42"/>
<rect x="843" y="660" width="5" height="40"/>
<rect x="851" y="660" width="5" height="40"/>
<rect x="859" y="660" width="5" height="36"/>
<rect x="867" y="660" width="5" height="33"/>
<rect x="875" y="660" width="5" height="31"/>
<rect x="883" y="660" width="5" height="29"/>
<rect x="891" y="660" width="5" height="28"/>
<rect x="899" y="660" width="5" height="32"/>
<rect x="907" y="660" width="5" height="36"/>
<rect x="915" y="660" width="5" height="39"/>
<rect x="923" y="660" width="5" height="44"/>
<rect x="931" y="660" width="5" height="47"/>
<rect x="939" y="660" width="5" height="54"/>
<rect x="947" y="660" width="5" height="56"/>
<rect x="955" y="660" width="5" height="58"/>
<rect x="963" y="660" width="5" height="56"/>
<rect x="971" y="660" width="5" height="52"/>
<rect x="979" y="660" width="5" height="46"/>
<rect x="987" y="660" width="5" height="42"/>
<rect x="995" y="660" width="5" height="36"/>
<rect x="1003" y="660" width="5" height="30"/>
<rect x="1011" y="660" width="5" height="25"/>
<rect x="1019" y="660" width="5" height="22"/>
<rect x="1027" y="660" width="5" height="16"/>
<rect x="1035" y="660" width="5" height="12"/>
<rect x="1043" y="660" width="5" height="10"/>
<rect x="1051" y="660" width="5" height="10"/>
<rect x="1059" y="660" width="5" height="11"/>
<rect x="1067" y="660" width="5" height="3"/>
<rect x="1075" y="657" width="5" height="3"/>
<rect x="1083" y="650" width="5" height="10"/>
<rect x="1091" y="645" width="5" height="15"/>
<rect x="1099" y="638" width="5" height="22"/>
<rect x="1107" y="631" width="5" height="29"/>
<rect x="1115" y="627" width="5" height="33"/>
<rect x="1123" y="626" width="5" height="34"/>
<rect x="1131" y="630" width="5" height="30"/>
<rect x="1139" y="636" width="5" height="24"/>
<rect x="1147" y="642" width="5" height="18"/>
<rect x="1155" y="645" width="5" height="15"/>
<rect x="1163" y="650" width="5" height="10"/>
<rect x="1171" y="657" width="5" height="3"/>
<rect x="1179" y="660" width="5" height="8"/>
<rect x="1187" y="660" width="5" height="12"/>
<rect x="1195" y="660" width="5" height="24"/>
<rect x="1203" y="660" width="5" height="32"/>
<rect x="1211" y="660" width="5" height="42"/>
<rect x="1219" y="660" width="5" height="55"/>
</g>
<g clip-path="url(#cd)"><polyline points="5,707.4 13,707.4 21,707.4 29,706.0 37,703.9 45,701.5 53,699.0 61,695.7 69,692.6 77,689.6 85,686.2 93,684.0 101,682.4 109,681.0 117,681.2 125,681.5 133,683.4 141,685.3 149,687.3 157,690.5 165,694.4 173,699.0 181,703.5 189,707.4 197,711.5 205,715.0 213,718.5 221,722.5 229,726.1 237,730.0 245,733.0 253,734.6 261,735.5 269,735.5 277,734.4 285,731.0 293,727.5 301,722.9 309,716.7 317,710.6 325,703.5 333,695.7 341,688.6 349,683.4 357,678.2 365,675.0 373,672.4 381,671.5 389,671.5 397,671.6 405,670.5 413,669.5 421,666.6 429,664.0 437,660.8 445,656.9 453,651.7 461,645.9 469,641.4 477,637.5 485,634.2 493,632.6 501,631.4 509,631.4 517,631.4 525,632.6 533,633.0 541,633.0 549,633.0 557,634.0 565,635.2 573,636.2 581,638.2 589,639.4 597,641.4 605,645.3 613,649.1 621,652.1 629,654.3 637,656.9 645,659.1 653,661.2 661,662.7 669,664.0 677,665.3 685,666.0 693,667.9 701,671.2 709,675.7 717,680.9 725,685.4 733,690.0 741,693.8 749,697.1 757,700.3 765,701.6 773,702.3 781,702.3 789,701.6 797,700.3 805,699.3 813,698.4 821,699.3 829,699.3 837,700.3 845,701.3 853,701.3 861,701.3 869,700.6 877,699.3 885,698.0 893,696.2 901,694.5 909,693.2 917,693.2 925,693.6 933,695.1 941,697.7 949,701.0 957,704.2 965,706.5 973,709.4 981,710.3 989,710.3 997,709.4 1005,707.4 1013,704.8 1021,701.0 1029,696.4 1037,691.6 1045,686.1 1053,681.9 1061,678.9 1069,675.0 1077,671.2 1085,667.7 1093,663.4 1101,658.6 1109,653.9 1117,649.1 1125,645.3 1133,641.4 1141,638.1 1149,636.5 1157,636.2 1165,636.6 1173,638.8 1181,642.7 1189,647.5 1197,653.7 1205,660.2 1213,667.9 1221,676.0" fill="none" stroke="#E51010" stroke-width="3" stroke-linejoin="round"/></g>
<g shape-rendering="crispEdges" fill="#000">
<rect x="4" y="4" width="1543" height="1"/>
<rect x="4" y="617" width="1543" height="1"/>
<rect x="4" y="4" width="1" height="614"/>
<rect x="1546" y="4" width="1" height="614"/>
<rect x="4" y="619" width="1543" height="1"/>
<rect x="4" y="746" width="1543" height="1"/>
<rect x="4" y="619" width="1" height="128"/>
<rect x="1546" y="619" width="1" height="128"/>
<rect x="1547" y="10" width="3" height="1"/>
<rect x="1547" y="59" width="3" height="1"/>
<rect x="1547" y="108" width="3" height="1"/>
<rect x="1547" y="157" width="3" height="1"/>
<rect x="1547" y="206" width="3" height="1"/>
<rect x="1547" y="255" width="3" height="1"/>
<rect x="1547" y="304" width="3" height="1"/>
<rect x="1547" y="353" width="3" height="1"/>
<rect x="1547" y="402" width="3" height="1"/>
<rect x="1547" y="451" width="3" height="1"/>
<rect x="1547" y="500" width="3" height="1"/>
<rect x="1547" y="549" width="3" height="1"/>
<rect x="1547" y="598" width="3" height="1"/>
<rect x="1547" y="596" width="3" height="1"/>
<rect x="1547" y="619" width="1" height="3"/>
<rect x="1547" y="660" width="2" height="1"/>
<rect x="1547" y="745" width="2" height="1"/>
<rect x="5" y="747" width="1" height="3"/>
<rect x="101" y="747" width="1" height="3"/>
<rect x="197" y="747" width="1" height="3"/>
<rect x="293" y="747" width="1" height="3"/>
<rect x="389" y="747" width="1" height="3"/>
<rect x="485" y="747" width="1" height="3"/>
<rect x="581" y="747" width="1" height="3"/>
<rect x="677" y="747" width="1" height="3"/>
<rect x="773" y="747" width="1" height="3"/>
<rect x="869" y="747" width="1" height="3"/>
<rect x="965" y="747" width="1" height="3"/>
<rect x="1061" y="747" width="1" height="3"/>
<rect x="1157" y="747" width="1" height="3"/>
</g>
<text class="t13" x="1552.5" y="14.5">4283.5</text>
<text class="t13" x="1552.5" y="63.5">4254.0</text>
<text class="t13" x="1552.5" y="112.5">4225.0</text>
<text class="t13" x="1552.5" y="161.5">4196.0</text>
<text class="t13" x="1552.5" y="210.5">4167.0</text>
<text class="t13" x="1552.5" y="259.5">4137.5</text>
<text class="t13" x="1552.5" y="308.5">4108.5</text>
<text class="t13" x="1552.5" y="357.5">4079.5</text>
<text class="t13" x="1552.5" y="406.5">4050.5</text>
<text class="t13" x="1552.5" y="455.5">4021.5</text>
<text class="t13" x="1552.5" y="504.5">3992.0</text>
<text class="t13" x="1552.5" y="553.5">3963.0</text>
<rect x="1548" y="525" width="44" height="14" fill="#F4A20E"/>
<text class="t13" x="1552.5" y="537" style="fill:#fff;stroke:#fff">3974.0</text>
<rect x="1548" y="589" width="44" height="14" fill="#000"/>
<text class="t13" x="1552.5" y="601" style="fill:#fff;stroke:#fff">3935.2</text>
<text x="1550" y="633">19.28</text>
<text x="1550.5" y="664.8">0.00</text>
<text x="1550" y="742.8">-41.16</text>
<text x="4" y="761.8">25 Jul 2022</text>
<text x="100" y="761.8">28 Jul 06:00</text>
<text x="196" y="761.8">2 Aug 06:00</text>
<text x="292" y="761.8">5 Aug 06:00</text>
<text x="388" y="761.8">10 Aug 06:00</text>
<text x="484" y="761.8">15 Aug 06:00</text>
<text x="580" y="761.8">18 Aug 06:00</text>
<text x="676" y="761.8">23 Aug 06:00</text>
<text x="772" y="761.8">26 Aug 06:00</text>
<text x="868" y="761.8">31 Aug 06:00</text>
<text x="964" y="761.8">5 Sep 06:00</text>
<text x="1060" y="761.8">8 Sep 06:00</text>
<text x="1156" y="761.8">14 Sep 06:00</text>
<polygon points="8,12 17,12 12.5,17" fill="#000"/>
<text class="t12" x="23" y="19">CHINA300-,H1</text>
<text x="110" y="19">3959.9</text>
<text x="153" y="19">3960.6</text>
<text x="196" y="19">3931.5</text>
<text x="239" y="19">3935.2</text>
<text class="t12" x="9" y="634.8">MACD(12,26,9)</text>
<text x="99" y="634.8">-25.88</text>
<text x="137" y="634.8">-7.46</text>
<polygon points="1231,5 1242,5 1236.5,10.5" fill="#6f7f8f"/>
<line x1="1232" y1="531.5" x2="1281" y2="628" stroke="#F80A0A" stroke-width="6.5" stroke-linecap="round"/>
<polygon points="1271.5,634.5 1292.5,622.5 1298,659" fill="#F80A0A"/>
</svg></body></html>
